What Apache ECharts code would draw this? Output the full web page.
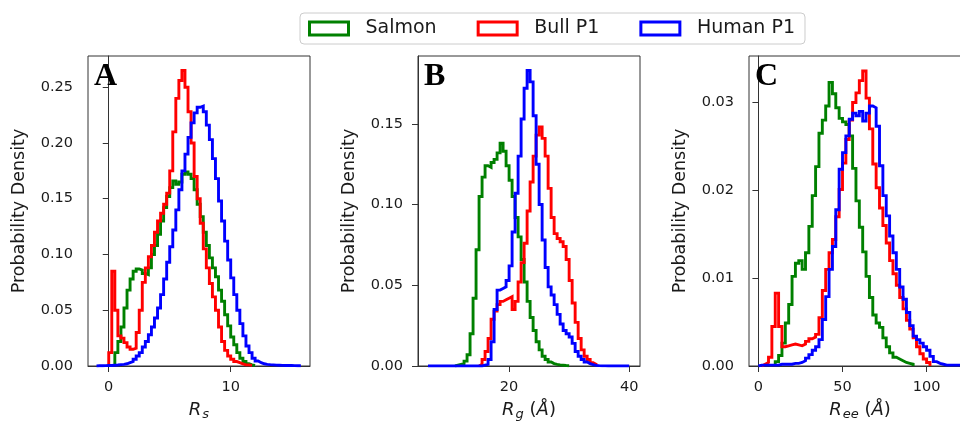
<!DOCTYPE html>
<html>
<head>
<meta charset="utf-8">
<script src="https://cdn.jsdelivr.net/npm/echarts@6/dist/echarts.min.js"></script>
<style>
  html, body { margin: 0; padding: 0; background: #fff; }
  #chart { width: 960px; height: 428px; }
</style>
</head>
<body>
<div id="chart"></div>
<script>
// legend / series
var seriesNames = ['Salmon', 'Bull P1', 'Human P1'];
var seriesColors = ['#008000', '#ff0000', '#0000ff'];

// panel A: R_s histograms (bin start, bin width, densities)
var binWidthA = 0.25;
var salmonStartA = 0.5;
var salmonA = [0.012, 0.022, 0.035, 0.052, 0.068, 0.078, 0.085, 0.087, 0.086, 0.083, 0.082, 0.088, 0.1, 0.108, 0.118, 0.13, 0.142, 0.152, 0.16, 0.166, 0.163, 0.165, 0.172, 0.174, 0.172, 0.168, 0.158, 0.145, 0.134, 0.12, 0.108, 0.097, 0.088, 0.08, 0.068, 0.058, 0.046, 0.036, 0.026, 0.019, 0.012, 0.007, 0.004, 0.002, 0.001, 0.0005];
var bullStartA = 0;
var bullA = [0.012, 0.085, 0.05, 0.027, 0.025, 0.021, 0.017, 0.015, 0.016, 0.03, 0.05, 0.075, 0.088, 0.098, 0.108, 0.12, 0.13, 0.137, 0.145, 0.155, 0.175, 0.21, 0.24, 0.256, 0.265, 0.25, 0.228, 0.2, 0.17, 0.15, 0.128, 0.105, 0.088, 0.074, 0.062, 0.05, 0.035, 0.022, 0.014, 0.009, 0.006, 0.004, 0.003, 0.002, 0.001, 0.001, 0.0005];
var humanStartA = -1.0;
var humanA = [0.0002, 0.0002, 0.0003, 0.0004, 0.0005, 0.0007, 0.0009, 0.0012, 0.0015, 0.002, 0.003, 0.004, 0.006, 0.009, 0.012, 0.017, 0.022, 0.028, 0.035, 0.043, 0.052, 0.064, 0.078, 0.093, 0.107, 0.122, 0.14, 0.158, 0.175, 0.19, 0.205, 0.218, 0.227, 0.232, 0.233, 0.228, 0.216, 0.203, 0.186, 0.168, 0.148, 0.13, 0.112, 0.095, 0.079, 0.064, 0.05, 0.038, 0.027, 0.018, 0.012, 0.007, 0.0045, 0.003, 0.002, 0.0015, 0.0012, 0.001, 0.0008, 0.0007, 0.0006, 0.0005, 0.0004, 0.0004, 0.0003, 0.0002, 0.0002];

// panel B: R_g histograms
var binWidthB = 0.5;
var salmonStartB = 11.0;
var salmonB = [0.0005, 0.001, 0.0015, 0.003, 0.007, 0.02, 0.042, 0.072, 0.105, 0.117, 0.124, 0.123, 0.126, 0.128, 0.132, 0.138, 0.133, 0.124, 0.115, 0.105, 0.092, 0.08, 0.066, 0.052, 0.04, 0.03, 0.022, 0.015, 0.01, 0.006, 0.004, 0.0025, 0.0015, 0.001, 0.0007, 0.0005, 0.0003, 0.0002];
var bullStartB = 15.0;
var bullB = [0.001, 0.004, 0.009, 0.017, 0.029, 0.034, 0.038, 0.04, 0.041, 0.042, 0.043, 0.035, 0.04, 0.052, 0.064, 0.076, 0.096, 0.114, 0.13, 0.143, 0.148, 0.141, 0.13, 0.11, 0.092, 0.082, 0.079, 0.077, 0.074, 0.066, 0.053, 0.039, 0.027, 0.017, 0.01, 0.006, 0.004, 0.002, 0.001];
var humanStartB = 6.5;
var humanB = [0, 0, 0, 0, 0, 0, 0, 0, 0, 0, 0, 0, 0, 0, 0, 0, 0, 0, 0.0005, 0.001, 0.004, 0.015, 0.035, 0.047, 0.048, 0.049, 0.053, 0.062, 0.083, 0.107, 0.13, 0.153, 0.172, 0.183, 0.176, 0.155, 0.125, 0.1, 0.078, 0.061, 0.049, 0.044, 0.038, 0.032, 0.026, 0.022, 0.02, 0.018, 0.014, 0.009, 0.006, 0.004, 0.0025, 0.0015, 0.0008, 0.0004, 0.0002, 0.0001, 0.0001, 0, 0, 0, 0, 0, 0, 0, 0];

// panel C: R_ee histograms
var binWidthC = 2;
var salmonStartC = 10;
var salmonC = [0.0005, 0.0012, 0.0026, 0.0049, 0.007, 0.0102, 0.0117, 0.012, 0.011, 0.0129, 0.0159, 0.0194, 0.0227, 0.0265, 0.028, 0.0296, 0.0323, 0.031, 0.0294, 0.0282, 0.0278, 0.0275, 0.0262, 0.0225, 0.0188, 0.0158, 0.013, 0.0102, 0.0078, 0.0058, 0.0049, 0.0044, 0.0032, 0.0022, 0.0015, 0.001, 0.0008, 0.0006, 0.0004, 0.0003, 0.0002];
var bullStartC = 2;
var bullC = [0.0002, 0.0004, 0.001, 0.0045, 0.0083, 0.0045, 0.0022, 0.0023, 0.0024, 0.0025, 0.0024, 0.0023, 0.0025, 0.0028, 0.0031, 0.0033, 0.0036, 0.0055, 0.0086, 0.011, 0.0129, 0.0144, 0.017, 0.0201, 0.0231, 0.0258, 0.028, 0.03, 0.0311, 0.0325, 0.0336, 0.0305, 0.027, 0.023, 0.0203, 0.018, 0.016, 0.014, 0.012, 0.0105, 0.0092, 0.0078, 0.0065, 0.0052, 0.0042, 0.0032, 0.0022, 0.0014, 0.0008, 0.0004];
var humanStartC = 0;
var humanC = [0.0001, 0.0001, 0.0001, 0.0001, 0.0001, 0.0001, 0.0002, 0.0002, 0.0002, 0.0002, 0.0003, 0.0003, 0.0004, 0.0006, 0.0009, 0.0013, 0.0018, 0.0022, 0.003, 0.0053, 0.0079, 0.011, 0.0136, 0.0178, 0.0224, 0.0243, 0.0262, 0.0281, 0.0288, 0.0285, 0.029, 0.0279, 0.0288, 0.0296, 0.0294, 0.0273, 0.0228, 0.0194, 0.0171, 0.0148, 0.0129, 0.011, 0.009, 0.0076, 0.0061, 0.0046, 0.0034, 0.003, 0.0026, 0.0022, 0.0018, 0.0011, 0.0005, 0.0003, 0.0002, 0.0001, 0.0001, 0.0001, 0.0001, 0.0001];

// axis ranges and ticks
var xRangeA = [-1.7, 16.5], xTicksA = [0, 10];
var yRangeA = [0, 0.278], yTicksA = [0, 0.05, 0.10, 0.15, 0.20, 0.25];
var xRangeB = [4.83, 41.8], xTicksB = [20, 40];
var yRangeB = [0, 0.192], yTicksB = [0, 0.05, 0.10, 0.15];
var xRangeC = [-5.6, 126.4], xTicksC = [0, 50, 100];
var yRangeC = [0, 0.0353], yTicksC = [0, 0.01, 0.02, 0.03];

var panelLetters = ['A', 'B', 'C'];
var xNames = [
  '{i|R}{sub|s}',
  '{i|R}{sub|g}{t| (}{i|Å}{t|)}',
  '{i|R}{sub|ee}{t| (}{i|Å}{t|)}'
];
var yName = 'Probability Density';

function histPoints(start, width, h) {
  var pts = [[start, 0]];
  for (var i = 0; i < h.length; i++) {
    pts.push([start + i * width, h[i]]);
  }
  pts.push([start + h.length * width, 0]);
  return pts;
}

var panels = [
  { x: xRangeA, y: yRangeA, xt: xTicksA, yt: yTicksA,
    h: [histPoints(salmonStartA, binWidthA, salmonA), histPoints(bullStartA, binWidthA, bullA), histPoints(humanStartA, binWidthA, humanA)] },
  { x: xRangeB, y: yRangeB, xt: xTicksB, yt: yTicksB,
    h: [histPoints(salmonStartB, binWidthB, salmonB), histPoints(bullStartB, binWidthB, bullB), histPoints(humanStartB, binWidthB, humanB)] },
  { x: xRangeC, y: yRangeC, xt: xTicksC, yt: yTicksC,
    h: [histPoints(salmonStartC, binWidthC, salmonC), histPoints(bullStartC, binWidthC, bullC), histPoints(humanStartC, binWidthC, humanC)] }
];

var gridLefts = [88, 418, 749];
var font = 'DejaVu Sans';
var axisColor = '#333';
var textColor = '#1a1a1a';

var grids = [], xAxes = [], yAxes = [], series = [], titles = [];

panels.forEach(function (p, k) {
  grids.push({
    left: gridLefts[k], top: 56, width: 222, height: 310,
    show: true, borderColor: axisColor, borderWidth: 1,
    backgroundColor: 'transparent',
    outerBoundsMode: 'none', containLabel: false
  });
  xAxes.push({
    type: 'value', gridIndex: k, min: p.x[0], max: p.x[1],
    name: xNames[k], nameLocation: 'middle', nameGap: 34, nameMoveOverlap: false,
    nameTextStyle: {
      color: textColor, fontFamily: font, fontSize: 18,
      rich: {
        i: { fontStyle: 'italic', fontSize: 18, fontFamily: font, color: textColor },
        sub: { fontStyle: 'italic', fontSize: 13, fontFamily: font, color: textColor, verticalAlign: 'bottom', padding: [8, 0, 0, 1] },
        t: { fontSize: 18, fontFamily: font, color: textColor }
      }
    },
    axisLine: { show: true, lineStyle: { color: axisColor, width: 1 } },
    axisTick: { show: true, length: 6, customValues: p.xt, lineStyle: { color: axisColor, width: 1 } },
    axisLabel: { show: true, customValues: p.xt, margin: 14, color: textColor, fontFamily: font, fontSize: 14.5 },
    splitLine: { show: false }
  });
  yAxes.push({
    type: 'value', gridIndex: k, min: p.y[0], max: p.y[1],
    name: yName, nameLocation: 'middle', nameGap: 60, nameMoveOverlap: false,
    nameTextStyle: { color: textColor, fontFamily: font, fontSize: 17.5 },
    axisLine: { show: true, lineStyle: { color: axisColor, width: 1 } },
    axisTick: { show: true, length: 6, customValues: p.yt, lineStyle: { color: axisColor, width: 1 } },
    axisLabel: {
      show: true, customValues: p.yt, margin: 15, color: textColor, fontFamily: font, fontSize: 14.5,
      formatter: function (v) { return v.toFixed(2); }
    },
    splitLine: { show: false }
  });
  p.h.forEach(function (pts, s) {
    series.push({
      name: seriesNames[s], type: 'line', xAxisIndex: k, yAxisIndex: k,
      data: pts, step: 'end', showSymbol: false, symbol: 'none',
      lineStyle: { color: seriesColors[s], width: 2.9, join: 'miter', cap: 'butt' },
      itemStyle: { color: seriesColors[s] },
      z: 2 + s, silent: true
    });
  });
  titles.push({
    text: panelLetters[k], left: gridLefts[k] + 6, top: 61, padding: 0,
    textStyle: { fontFamily: 'Liberation Serif', fontWeight: 'bold', fontSize: 32, color: '#000' }
  });
});

var chart = echarts.init(document.getElementById('chart'), null, { renderer: 'canvas' });
chart.setOption({
  animation: false,
  backgroundColor: '#fff',
  title: titles,
  legend: {
    left: 300, top: 13, orient: 'horizontal',
    icon: 'rect', itemWidth: 39, itemHeight: 13, itemGap: 40,
    padding: [6, 10, 6, 8],
    borderColor: '#cccccc', borderWidth: 1, borderRadius: 4, backgroundColor: '#fff',
    itemStyle: { color: '#fff', borderWidth: 3 },
    textStyle: { fontFamily: font, fontSize: 19, color: textColor, padding: [0, 0, 0, 12] },
    data: seriesNames.map(function (n, i) {
      return { name: n, itemStyle: { color: '#fff', borderColor: seriesColors[i], borderWidth: 3 } };
    })
  },
  grid: grids,
  xAxis: xAxes,
  yAxis: yAxes,
  series: series
});
</script>
</body>
</html>
